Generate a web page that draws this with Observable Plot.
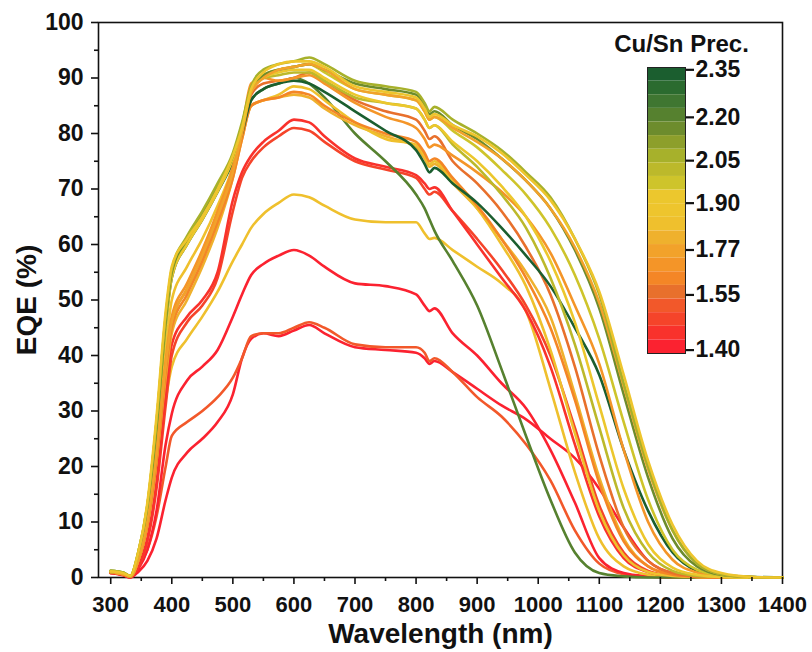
<!DOCTYPE html>
<html>
<head>
<meta charset="utf-8">
<script src="https://cdn.jsdelivr.net/npm/d3@7"></script>
<script src="https://cdn.jsdelivr.net/npm/@observablehq/plot@0.6"></script>
<style>
  html, body { margin: 0; padding: 0; background: #fff; }
  #wrap { position: relative; width: 812px; height: 652px; }
  #wrap svg { position: absolute; left: 0; top: 0; }
</style>
</head>
<body>
<div id="wrap"></div>
<script>
// Wavelength grid (nm)
const wavelength = [300, 320, 332, 345, 360, 375, 390, 400, 425, 450, 475, 500, 515, 530, 550, 575, 600, 625, 650, 700, 750, 800, 814, 822, 830, 860, 900, 940, 980, 1020, 1060, 1100, 1140, 1180, 1220, 1260, 1300, 1350, 1400];

// EQE (%) of each sample on the grid above
const eqeYG1   = [1.2,0.9,0.3,4.5,13,28,47,55.5,61.5,66,71,76.5,82,88.5,91.5,92.5,93,93.7,92.5,89.5,88.5,87.5,85.5,84,84.8,82.5,80,77,73,68.5,61,51,35,20,8.5,2.5,0.6,0.1,0];
const eqeG4    = [1.0,0.8,0.2,4,12,27,46,55,61,65.5,70.5,76,81.5,88,90.5,91.5,92,92.5,91.5,89,88,87,85,83.5,84,81.5,79,75.5,71.5,66.5,59,48.5,33,18,7,2,0.5,0.1,0];
const eqeY10   = [1.1,0.8,0.3,4.5,13.5,29,48,56,61,65,70,76,81,88,91,92.5,93,93,92,88.5,87.5,86.5,84.5,83,83.5,81.5,79.5,76.5,72.5,68,61,51.5,36.5,21,9.5,3,0.8,0.1,0];
const eqeO13   = [1.0,0.6,0.2,3,10,22,38,46,52,58,65,73,80,87.5,90,91.5,92,92.5,91.5,88,87,86,84,82.5,83,81,78.5,75.5,71.5,66.5,59.5,49.5,34.5,19.5,8.5,2.5,0.6,0.1,0];
const eqeY9    = [1.1,0.8,0.3,4,12.5,27,45,54,60,64.5,69.5,75.5,81,87.5,90,91,91.5,91.5,90,87,85.5,84.5,82.5,81,81.5,78.5,75,70.5,65,57,46,31,16,6,1.8,0.5,0.1,0,0];
const eqeYG7   = [1.2,0.9,0.3,4.5,13,28,46.5,55,60.5,65,70,76,81.5,88,90,90.5,91,91,89.5,86.5,85.5,84.5,82.5,81,81.5,78,74,69,63,54,42,27,12.5,4.5,1.2,0.3,0.1,0,0];
const eqeO14   = [0.9,0.6,0.2,3,10,23,39,47,53,59,66,74,81,89,90,89.5,90,90.5,89,85.5,83,81,79,77.5,78,76,73,69.5,65,58.5,49,38.5,23,10,3.2,0.9,0.2,0,0];
const eqeDG0   = [1.1,0.8,0.3,4,12,27,45.5,54,60,64.5,69.5,75,80,86,88,89,89.5,89,87.5,84,80.5,77,74.5,73,73.8,71,67.5,63,58,52.5,45,36.5,23,12,4.5,1.2,0.3,0.1,0];
const eqeOl3   = [1.2,0.9,0.3,4,12.5,27.5,46,54.5,60.5,65,70,75.5,80.5,86,88,89,90,89,86.5,80,75,69,66.5,64.5,62.5,57,49,37.5,25.5,14,4.5,0.8,0.2,0,0,0,0,0,0];
const eqeO15   = [0.9,0.6,0.2,3,9.5,21,37,45,51,57,64,72,79,85,86,86.5,87.5,87,85,82,80,78.5,76.5,75,75.5,72,67,61,54,45,32,17,6.5,2,0.5,0.1,0,0,0];
const eqeO16   = [1.0,0.6,0.2,3,10,22,38,46,52,58,65,73,80,87,89,89.5,90,91,89.5,86,84,82.5,80.5,79,79.5,75,71,66,59.5,51,38,22,9,3,0.8,0.2,0,0,0];
const eqeY11   = [1.0,0.7,0.2,3.5,11,24,41,50,56,61,67,74,80,85,86,87,88.5,88,86,82,79,78,76,74.5,75,71.5,66.5,60,52.5,41,26,12,4,1,0.3,0.1,0,0,0];
const eqeO12   = [0.9,0.6,0.2,3,9.5,21,36,44,50,56,63,72,79,85,86,86.5,87,86.5,84.5,81.5,79.5,77.5,75.5,74,74.5,71,66.5,61,55,47,33,18,7,2,0.5,0.1,0,0,0];
const eqeYG8   = [1.1,0.8,0.3,4.5,13,28,47,55.5,61,65.5,70.5,76,81.5,88,90.5,91.5,92,92.5,91,88,87,86,84,82.5,83,80.5,77.5,73.5,69,63,54.5,43,28,14,5,1.4,0.4,0.1,0];
const eqeR83   = [0.8,0.5,0.1,2,7,17,33,42,47,50,55,68,73,76,78.5,80.5,82.5,82,79.5,75.5,74,72.5,71,70,70.3,66,60,54,48,38,24,11,3.5,1,0.3,0.1,0,0,0];
const eqeR81   = [0.8,0.5,0.1,1.8,6.5,16,31,40,46,49,54,66,72,75,77.5,79.5,81,80.5,78.5,75,73.5,72,70,69,69.5,66,61,55.5,49,40,27,13,4.5,1.2,0.3,0.1,0,0,0];
const eqeY69   = [0.9,0.6,0.2,3,9,20,32,38,43,47,51.5,57,60,63,65.5,67.5,69,68.5,67,64.5,64,64,62,61,61.2,59,56,53,48,34,19,7,2,0.5,0.1,0,0,0,0];
const eqeR59   = [0.8,0.5,0,1.5,5,12,24,29.5,35.5,38,41,47,51,54.5,56.5,58,59,58,56,53,52.5,51,49,48,48.5,44,40,35,30.5,23,13.5,3.5,0.8,0.2,0,0,0,0,0];
const eqeR45   = [0.8,0.4,0,1,3,7,14,18,22.5,25,28,33,39.5,43,44,43.5,44.5,45.5,44,41.5,41,40.5,39.5,38.5,39,37,34,31,28.5,25,21.5,16,9,3,0.8,0.2,0,0,0];
const eqeOR45  = [1,0.6,0.2,2,5,11,20,25.5,28,30,32.5,36,39.5,43.5,44,44,45,46,45,42,41.5,41.5,40.5,39,39.5,37,32.5,29,24,17.5,8.5,2.5,0.6,0.2,0,0,0,0,0];

// Colour bar bands, top (Cu/Sn 2.35) to bottom (1.40)
const bandColors = ["#1b5e2f","#2b6b2f","#3f7631","#56812f","#6d8c2d","#8d9f2b","#a7b12b","#bcb92b","#cec42b","#ecc72d","#eec52d","#efc02d","#efb12d","#f2a22a","#f49528","#f48626","#e8702c","#f2582a","#f5442a","#f9322c","#fb2230"];
const cbLabels  = ["2.35","2.20","2.05","1.90","1.77","1.55","1.40"];
const cbLabelBand = [0.17, 3.66, 6.84, 9.96, 13.4, 16.7, 20.75];

// Samples: EQE series and colour-bar band
const samples = [
  {values: eqeR45, band: 20}, {values: eqeOR45, band: 17}, {values: eqeR59, band: 20},
  {values: eqeY69, band: 11}, {values: eqeR81, band: 18}, {values: eqeR83, band: 19},
  {values: eqeOl3, band: 3},  {values: eqeO12, band: 12}, {values: eqeY11, band: 11},
  {values: eqeO15, band: 15}, {values: eqeO16, band: 16}, {values: eqeDG0, band: 0},
  {values: eqeO14, band: 14}, {values: eqeYG7, band: 7},  {values: eqeY9, band: 9},
  {values: eqeYG8, band: 8},  {values: eqeG4, band: 4},   {values: eqeO13, band: 13},
  {values: eqeYG1, band: 6},  {values: eqeY10, band: 10}
];

const xMajor = [300,400,500,600,700,800,900,1000,1100,1200,1300,1400];
const xMinor = [350,450,550,650,750,850,950,1050,1150,1250,1350];
const yMajor = [0,10,20,30,40,50,60,70,80,90,100];
const yMinor = [5,15,25,35,45,55,65,75,85,95];

const font = "'Liberation Sans', Arial, Helvetica, sans-serif";

const lines = samples.map(s => Plot.line(
  wavelength.map((w, i) => [w, s.values[i]]),
  {stroke: bandColors[s.band], strokeWidth: 2.6, curve: "monotone-x"}
));

const main = Plot.plot({
  width: 812, height: 652,
  marginLeft: 98, marginRight: 30, marginTop: 22, marginBottom: 75,
  style: {fontFamily: font, fontWeight: "bold", color: "#111", background: "transparent"},
  x: {domain: [280, 1400]},
  y: {domain: [0, 100]},
  marks: [
    Plot.frame({stroke: "#111", strokeWidth: 1.6}),
    ...lines,
    Plot.axisX({ticks: xMajor, tickFormat: d => String(d), tickSize: 7, tickPadding: 12, fontSize: 22, fontWeight: "bold", strokeWidth: 1.6, label: null}),
    Plot.axisX({ticks: xMinor, tickSize: 4, tickFormat: () => "", strokeWidth: 1.6, label: null}),
    Plot.axisY({ticks: yMajor, tickFormat: d => String(d), tickSize: 7, tickPadding: 8, fontSize: 23, fontWeight: "bold", strokeWidth: 1.6, label: null}),
    Plot.axisY({ticks: yMinor, tickSize: 4, tickFormat: () => "", strokeWidth: 1.6, label: null}),
    Plot.text(["Wavelength (nm)"], {frameAnchor: "bottom", textAnchor: "middle", lineAnchor: "middle", dy: 57, fontSize: 28, fontWeight: "bold", fill: "#111"}),
    Plot.text(["EQE (%)"], {frameAnchor: "left", textAnchor: "middle", lineAnchor: "middle", dx: -71, rotate: -90, fontSize: 28, fontWeight: "bold", fill: "#111"})
  ]
});

const bar = Plot.plot({
  width: 812, height: 652,
  marginLeft: 647, marginRight: 127, marginTop: 67, marginBottom: 299,
  style: {fontFamily: font, fontWeight: "bold", color: "#111", background: "transparent"},
  x: {domain: [0, 1], axis: null},
  y: {domain: [21, 0], axis: null},
  color: {type: "identity"},
  marks: [
    Plot.rect(bandColors, {x1: 0, x2: 1, y1: (d, i) => i, y2: (d, i) => i + 1, fill: d => d}),
    Plot.frame({stroke: "#222", strokeWidth: 1}),
    Plot.axisY({anchor: "right", ticks: cbLabelBand, tickFormat: d => cbLabels[cbLabelBand.indexOf(d)], tickSize: 8, tickPadding: 2, fontSize: 23, fontWeight: "bold", strokeWidth: 2.2, label: null}),
    Plot.text(["Cu/Sn Prec."], {frameAnchor: "top", textAnchor: "middle", lineAnchor: "middle", dx: 15, dy: -23, fontSize: 24, fontWeight: "bold", fill: "#111"})
  ]
});

const wrap = document.getElementById("wrap");
wrap.appendChild(main);
wrap.appendChild(bar);
</script>
</body>
</html>
